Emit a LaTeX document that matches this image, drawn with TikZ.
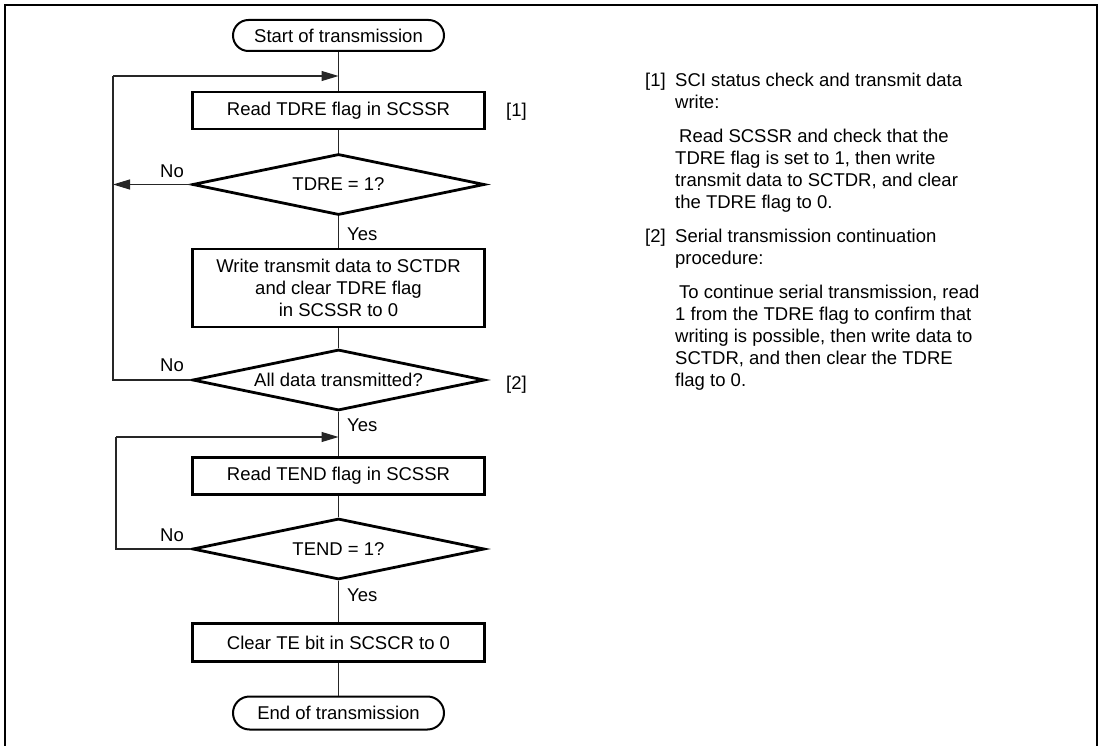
\documentclass[tikz,border=0pt]{standalone}
\usepackage{fontspec}
\setmainfont{Liberation Sans}
\usetikzlibrary{shapes.geometric, arrows.meta}
\begin{document}
\begin{tikzpicture}[x=1pt, y=-1pt,
  every node/.style={font=\fontsize{18.5}{22}\selectfont, inner sep=0pt},
  procbox/.style={draw, line width=2.8pt, minimum width=292pt, minimum height=37pt, align=center},
  decbox/.style={draw, diamond, aspect=4.5, line width=2.8pt, minimum width=292pt, minimum height=61pt},
  termbox/.style={draw, rounded corners=15.5pt, line width=2pt, minimum width=211pt, minimum height=31pt},
  conn/.style={line width=1.1pt, draw=black!85},
  connarrow/.style={conn, -{Triangle[length=17pt, width=10pt]}},
  lbl/.style={anchor=base west},
  frame/.style={line width=2.8pt},
]
\useasboundingbox (0,0) rectangle (1101,746);

% outer frame (open at the bottom)
\draw[frame] (5,752) -- (5,5) -- (1097,5) -- (1097,752);

% flowchart nodes
\node[termbox] (start) at (338.5,35.5) {Start of transmission};
\node[procbox] (rd1) at (338.5,110.5) {Read TDRE flag in SCSSR};
\node[decbox] (d1) at (338.5,184.5) {TDRE = 1?};
\node[procbox, minimum height=78pt] (wr) at (338.5,288) {Write transmit data to SCTDR\\and clear TDRE flag\\in SCSSR to 0};
\node[decbox] (d2) at (338.5,380) {All data transmitted?};
\node[procbox] (rd2) at (338.5,476) {Read TEND flag in SCSSR};
\node[decbox] (d3) at (338.5,549) {TEND = 1?};
\node[procbox, minimum height=38pt] (clr) at (338.5,642.5) {Clear TE bit in SCSCR to 0};
\node[termbox, minimum height=33pt, rounded corners=16.5pt] (end) at (338.5,713) {End of transmission};

% main line
\draw[conn] (start) -- (rd1) -- (d1) -- (wr) -- (d2) -- (rd2) -- (d3) -- (clr) -- (end);

% loop 1
\coordinate (L1t) at (113,76);
\coordinate (M1) at (start |- L1t);
\draw[connarrow] (d1.west) -- (d1.west -| L1t);
\draw[conn] (d2.west) -| (L1t);
\draw[connarrow] (L1t) -- (M1);

% loop 2
\coordinate (L2t) at (116,437);
\coordinate (M2) at (start |- L2t);
\draw[conn] (d3.west) -| (L2t);
\draw[connarrow] (L2t) -- (M2);

% branch labels
\node[lbl] (no1) at (160,177.5) {No};
\node[lbl] (no2) at (160,371.6) {No};
\node[lbl] (no3) at (160,541.6) {No};
\node[lbl] (yes1) at (347,240.6) {Yes};
\node[lbl] (yes2) at (347,431.6) {Yes};
\node[lbl] (yes3) at (347,601.6) {Yes};
\node[lbl] (ref1) at (506,117) {[1]};
\node[lbl] (ref2) at (506,389.6) {[2]};

% notes
\node[lbl] (n1) at (645,86.6) {[1]};
\node[lbl] (n1a) at (675,86.6) {SCI status check and transmit data};
\node[lbl] (n1b) at (675,108.6) {write:};
\node[lbl] (n1c) at (679,142.6) {Read SCSSR and check that the};
\node[lbl] (n1d) at (675,164.6) {TDRE flag is set to 1, then write};
\node[lbl] (n1e) at (675,186.6) {transmit data to SCTDR, and clear};
\node[lbl] (n1f) at (675,208.6) {the TDRE flag to 0.};
\node[lbl] (n2) at (645,242.6) {[2]};
\node[lbl] (n2a) at (675,242.6) {Serial transmission continuation};
\node[lbl] (n2b) at (675,264.6) {procedure:};
\node[lbl] (n2c) at (679,298.6) {To continue serial transmission, read};
\node[lbl] (n2d) at (675,320.6) {1 from the TDRE flag to confirm that};
\node[lbl] (n2e) at (675,342.6) {writing is possible, then write data to};
\node[lbl] (n2f) at (675,364.6) {SCTDR, and then clear the TDRE};
\node[lbl] (n2g) at (675,386.6) {flag to 0.};
\end{tikzpicture}
\end{document}
